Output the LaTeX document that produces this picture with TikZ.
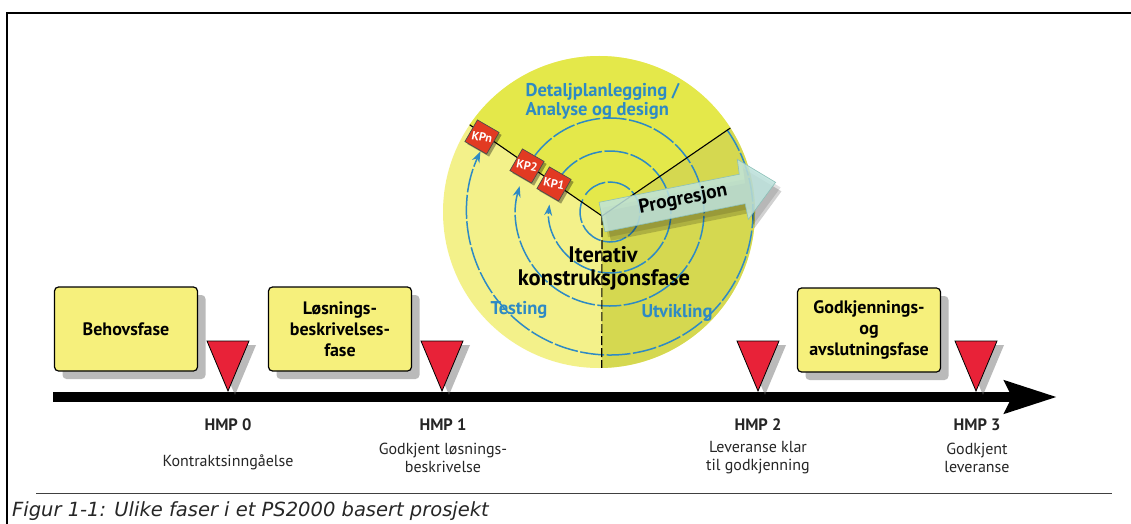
\documentclass[tikz,border=0pt]{standalone}
\usepackage{fontspec}
\setmainfont{PT Sans}
\newfontfamily\capfont{DejaVu Sans Oblique}
\usetikzlibrary{arrows.meta,calc,shadows}

\definecolor{phaseyellow}{HTML}{F6F07C}
\definecolor{sectop}{HTML}{E4E84A}
\definecolor{secleft}{HTML}{F3F18A}
\definecolor{secright}{HTML}{D5D850}
\definecolor{hmpred}{HTML}{E82238}
\definecolor{kpred}{HTML}{E23A22}
\definecolor{ringblue}{HTML}{2E8AC4}
\definecolor{progcyan}{HTML}{BFE4DE}
\definecolor{progedge}{HTML}{8CC0B8}

\tikzset{
  phasebox/.style={draw=black, line width=1.2pt, fill=phaseyellow, rounded corners=4pt,
    minimum width=143pt, minimum height=84pt, align=center, inner sep=2pt,
    font=\bfseries\fontsize{18}{21}\selectfont,
    drop shadow={shadow xshift=8pt, shadow yshift=-8pt, opacity=0.45, fill=black!60}},
  milestone/.style={fill=hmpred, draw=black, line width=0.8pt, line join=miter},
  milestoneshadow/.style={fill=black!60, opacity=0.45},
  hmplabel/.style={font=\bfseries\fontsize{16.5}{18}\selectfont, text=black!85},
  hmpnote/.style={font=\fontsize{16}{18}\selectfont, align=center, text=black!85},
  kpsquare/.style={fill=kpred, draw=black!70, line width=0.7pt},
  kpshadow/.style={fill=black, opacity=0.35},
  kptext/.style={text=white, inner sep=0pt, font=\bfseries\fontsize{12}{12}\selectfont, rotate=-12},
  ring/.style={draw=ringblue, line width=1.5pt, dash pattern=on 24pt off 2.5pt},
  ringtip/.style={-{Stealth[length=11pt, width=8pt]}},
  bluelabel/.style={text=ringblue, font=\bfseries\fontsize{18.5}{20}\selectfont},
  bigtitle/.style={font=\bfseries\fontsize{22.5}{24}\selectfont},
  divider/.style={draw=black, line width=1.1pt},
}

\begin{document}
\begin{tikzpicture}[x=1pt,y=1pt]
\useasboundingbox (0,0) rectangle (1131,-524);
\fill[white] (0,0) rectangle (1131,-524);

% page frame
\draw[line width=2.2pt] (7,-524) -- (7,-13) -- (1131,-13);

% ---- iterative phase disc ----
\coordinate (C) at (599,-212);
\coordinate (S) at (602,-216);
\coordinate (R) at (610,-212);
\fill[secleft] (C) circle[radius=156];
\fill[sectop] (S) -- ($(C)+(146:156)$) arc[start angle=146, end angle=32.6, radius=156] -- cycle;
\fill[secright] (S) -- ($(C)+(32.6:156)$) arc[start angle=32.6, end angle=-89, radius=156] -- cycle;

% iteration rings
\draw[ring] ($(R)+(145:30)$) arc[start angle=145, end angle=-205, radius=30];
\draw[ring,ringtip] ($(R)+(145:61)$) arc[start angle=145, end angle=-187, radius=61];
\draw[ring,ringtip] ($(R)+(143:94)$) arc[start angle=143, end angle=-196, radius=94];
\draw[ring,ringtip] ($(R)+(35:143)$) arc[start angle=35, end angle=-205, radius=143];

% sector dividers
\draw[divider] (S) -- ($(C)+(146:156)$);
\draw[divider] (S) -- ($(C)+(32.6:156)$);
\draw[divider, dash pattern=on 9pt off 3pt] (S) -- ($(C)+(-89:156)$);

% checkpoints on the planning boundary
\foreach \nm/\x/\y/\t in {kpn/482/137/KPn, kp2/527/166/KP2, kp1/554/184/KP1} {
  \begin{scope}[shift={(\x+2.5,-\y-2.5)}, rotate=-30]
    \fill[kpshadow] (-12.5,-12.5) rectangle (12.5,12.5);
  \end{scope}
  \begin{scope}[shift={(\x,-\y)}, rotate=-30]
    \filldraw[kpsquare] (-12.5,-12.5) rectangle (12.5,12.5);
  \end{scope}
  \node[kptext] (\nm) at (\x,-\y) {\t};
}

% progression arrow
\begin{scope}[shift={(602,-217)}, rotate=11.3]
  \fill[black, opacity=0.12] (2,9) -- (147,9) -- (148,24) -- (181,-6) -- (147,-37) -- (147,-21) -- (2,-21) -- cycle;
  \fill[black, opacity=0.18] (4,5) -- (147,5) -- (148,20) -- (181,-10) -- (147,-41) -- (147,-25) -- (4,-25) -- cycle;
  \path[fill=progcyan, fill opacity=0.85, draw=progedge, line width=0.6pt]
    (0,15) -- (143,15) -- (144,30) -- (177,0) -- (143,-31) -- (143,-15) -- (0,-15) -- cycle;
  \node[font=\bfseries\fontsize{19.5}{20}\selectfont, rotate=11.3] (prog) at (83,1) {Progresjon};
\end{scope}

% disc labels
\node[bluelabel, anchor=west] (dp) at (522,-92) {Detaljplanlegging /};
\node[bluelabel, anchor=west] (ad) at (522,-111) {Analyse og design};
\node[bigtitle] (it) at (603,-255) {Iterativ};
\node[bigtitle] (kf) at (604,-280) {konstruksjonsfase};
\node[bluelabel] (test) at (519,-310) {Testing};
\node[bluelabel] (utv) at (677,-313) {Utvikling};

% ---- timeline ----
\coordinate (tlstart) at (53,-397);
\coordinate (tlend) at (1057,-397);
\draw[line width=10pt, -{Stealth[length=52pt, width=32pt, inset=7pt]}] (tlstart) -- (tlend);

% phase boxes
\node[phasebox] (behov) at (126,-329) {Behovsfase};
\node[phasebox] (losning) at (340,-329) {Løsnings-\\beskrivelses-\\fase};
\node[phasebox] (godkj) at (869,-330) {Godkjennings-\\og\\avslutningsfase};

% milestones
\foreach \n/\x in {0/228,1/442,2/758,3/976} {
  \coordinate (tip\n) at (\x,-391);
  \fill[milestoneshadow] ($(tip\n)+(7,-4)$) -- ++(-21,50) -- ++(42,0) -- cycle;
  \filldraw[milestone] (tip\n) -- ++(-21,50) -- ++(42,0) -- cycle;
}

\node[hmplabel] (h0) at (228,-425) {HMP 0};
\node[hmpnote] (n0) at (228,-462) {Kontraktsinngåelse};
\node[hmplabel] (h1) at (443,-425) {HMP 1};
\node[hmpnote] (n1) at (443,-458) {Godkjent løsnings-\\beskrivelse};
\node[hmplabel] (h2) at (758,-425) {HMP 2};
\node[hmpnote] (n2) at (758,-458) {Leveranse klar\\til godkjenning};
\node[hmplabel] (h3) at (977,-425) {HMP 3};
\node[hmpnote] (n3) at (977,-458) {Godkjent\\leveranse};

% caption
\draw[black!75, line width=0.9pt] (36,-493) -- (1112,-493);
\node[anchor=base west, inner sep=0pt, text=black!85, font=\capfont\fontsize{19.5}{20}\selectfont] (cap) at (12,-516) {Figur 1-1: Ulike faser i et PS2000 basert prosjekt};
\end{tikzpicture}
\end{document}
